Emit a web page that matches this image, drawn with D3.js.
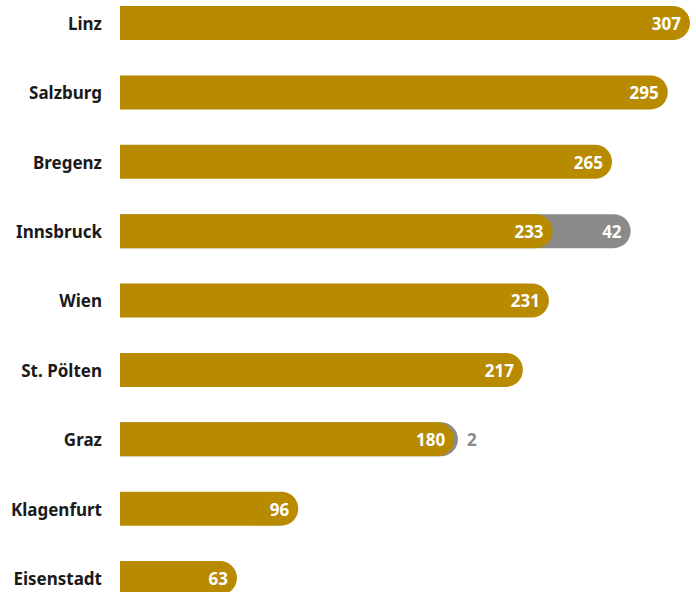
<!DOCTYPE html>
<html lang="de">
<head>
<meta charset="utf-8">
<script src="https://d3js.org/d3.v7.min.js"></script>
<style>
body { margin: 0; background: #fff; }
svg { display: block; }
text { font-family: "Noto Sans", "Open Sans", sans-serif; font-weight: 700; }
</style>
</head>
<body>
<div id="plot"></div>
<script>
var width = 696, height = 592;

var cities = ["Linz", "Salzburg", "Bregenz", "Innsbruck", "Wien", "St. Pölten", "Graz", "Klagenfurt", "Eisenstadt"];
var mainVals = [307, 295, 265, 233, 231, 217, 180, 96, 63];
var extraVals = [0, 0, 0, 42, 0, 0, 2, 0, 0];

var gold = "#b88a00", grey = "#8a8a8a";
var barH = 34, r = barH / 2, fs = 17;

var svg = d3.select("#plot").append("svg")
  .attr("width", width).attr("height", height);

var x = d3.scaleLinear().domain([0, 307]).range([120, 690]);
var y = d3.scalePoint().domain(cities).range([23, 578]);

// bar with square left side and round right end
function pill(x0, x1, yc) {
  var t = yc - r, b = yc + r;
  var xr = Math.max(x1 - r, x0);
  return "M" + x0 + "," + t + "L" + xr + "," + t +
    "A" + r + "," + r + " 0 0 1 " + xr + "," + b +
    "L" + x0 + "," + b + "Z";
}

var rows = cities.map(function(c, i) {
  return { city: c, main: mainVals[i], extra: extraVals[i] };
});

var g = svg.selectAll("g.row").data(rows).enter().append("g").attr("class", "row");

// grey total bar first, gold on top
g.filter(function(d) { return d.extra > 0; })
  .append("path")
  .attr("d", function(d) { return pill(x(0), x(d.main + d.extra), y(d.city)); })
  .attr("fill", grey);

g.append("path")
  .attr("d", function(d) { return pill(x(0), x(d.main), y(d.city)); })
  .attr("fill", gold);

g.append("text")
  .attr("x", 102)
  .attr("y", function(d) { return y(d.city) + 1; })
  .attr("dy", "0.35em")
  .attr("text-anchor", "end")
  .attr("font-size", fs)
  .attr("fill", "#1a1a1a")
  .text(function(d) { return d.city; });

g.append("text")
  .attr("x", function(d) { return x(d.main) - 9; })
  .attr("y", function(d) { return y(d.city) + 1; })
  .attr("dy", "0.35em")
  .attr("text-anchor", "end")
  .attr("font-size", fs)
  .attr("fill", "#fff")
  .text(function(d) { return d.main; });

// extra labels: inside when the segment is wide enough, otherwise after the bar
function wide(d) { return x(d.main + d.extra) - x(d.main) > 40; }

g.filter(function(d) { return d.extra > 0; })
  .append("text")
  .attr("x", function(d) {
    return wide(d) ? x(d.main + d.extra) - 9 : x(d.main + d.extra) + 9;
  })
  .attr("y", function(d) { return y(d.city) + 1; })
  .attr("dy", "0.35em")
  .attr("text-anchor", function(d) { return wide(d) ? "end" : "start"; })
  .attr("font-size", fs)
  .attr("fill", function(d) { return wide(d) ? "#fff" : grey; })
  .text(function(d) { return d.extra; });
</script>
</body>
</html>
